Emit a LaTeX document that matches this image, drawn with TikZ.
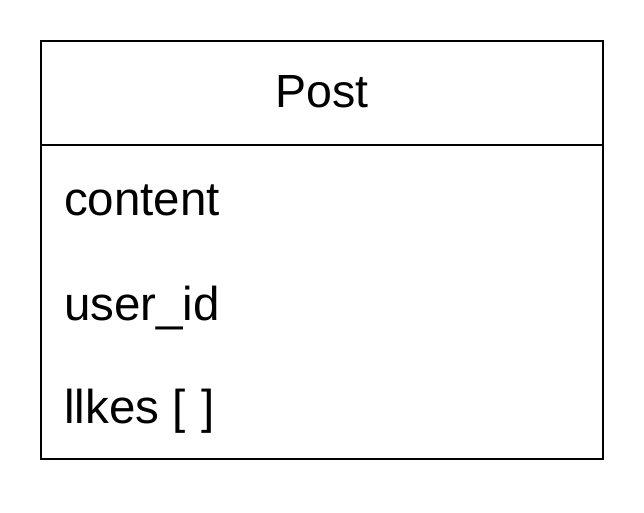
\documentclass[tikz,border=0pt]{standalone}
\usepackage{fontspec}
\setmainfont{Liberation Sans}

\begin{document}
\begin{tikzpicture}[x=1pt,y=1pt,
  field/.style={anchor=base west, inner sep=0pt, font=\fontsize{47.5}{56}\selectfont}]
\useasboundingbox (0,0) rectangle (644,512);
\draw[line width=2pt] (41,53) rectangle (603,367);
\draw[line width=2.8pt] (41,367) rectangle (603,471);
\node[field, anchor=base, font=\fontsize{46.5}{56}\selectfont] (title) at (322,404.7) {Post};
\node[field] (content) at (64,297) {content};
\node[field] (userid) at (64,192) {user\_id};
\node[field] (likes) at (64,89) {llkes [\,\,]};
\end{tikzpicture}
\end{document}
